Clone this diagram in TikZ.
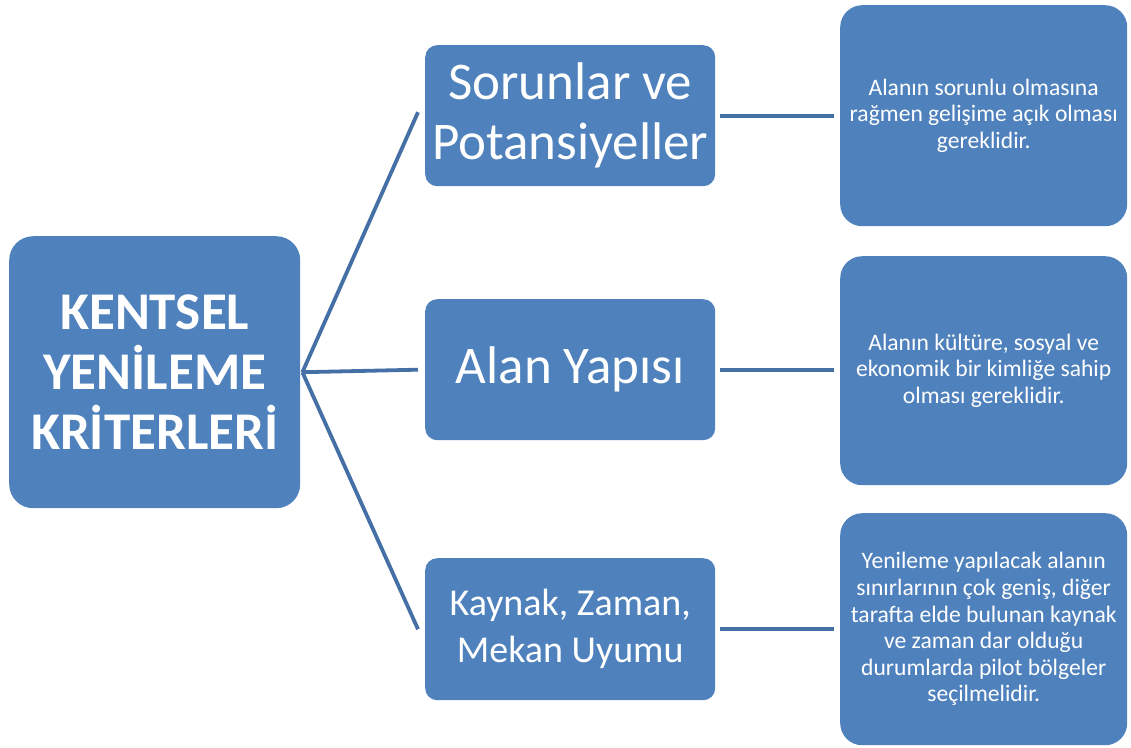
\documentclass[tikz,border=0pt]{standalone}
\usepackage{fontspec}
\setmainfont{Carlito}
\definecolor{boxblue}{HTML}{4F81BD}
\definecolor{lineblue}{HTML}{4470A5}
\begin{document}
\begin{tikzpicture}[x=1pt,y=-1pt,
  box/.style={fill=boxblue, draw=none, anchor=north west, text=white, align=center, inner sep=0pt},
  conn/.style={draw=lineblue, line width=3.8pt}]
\useasboundingbox (0,0) rectangle (1131,747);
% left box
\node[box, rounded corners=24pt, minimum width=291pt, minimum height=272pt,
  font=\fontsize{53}{60}\selectfont\bfseries] (L) at (9,236) {KENTSEL\\YENİLEME\\KRİTERLERİ};
% middle boxes
\node[box, rounded corners=12pt, minimum width=290pt, minimum height=141pt,
  font=\fontsize{53}{60}\selectfont] (M1) at (425,45) {Sorunlar ve\\Potansiyeller};
\node[box, rounded corners=12pt, minimum width=290pt, minimum height=141pt,
  font=\fontsize{53}{60}\selectfont] (M2) at (425,299) {Alan Yapısı};
\node[box, rounded corners=12pt, minimum width=290pt, minimum height=142pt,
  font=\fontsize{38}{47}\selectfont] (M3) at (425,558) {Kaynak, Zaman,\\Mekan Uyumu};
% right boxes
\node[box, rounded corners=22pt, minimum width=287pt, minimum height=221pt,
  font=\fontsize{23.6}{26.6}\selectfont] (R1) at (840,5) {Alanın sorunlu olmasına\\rağmen gelişime açık olması\\gereklidir.};
\node[box, rounded corners=22pt, minimum width=287pt, minimum height=229pt,
  font=\fontsize{23.6}{26.6}\selectfont] (R2) at (840,256) {Alanın kültüre, sosyal ve\\ekonomik bir kimliğe sahip\\olması gereklidir.};
\node[box, rounded corners=22pt, minimum width=287pt, minimum height=232pt,
  font=\fontsize{23.6}{26.6}\selectfont] (R3) at (840,513) {Yenileme yapılacak alanın\\sınırlarının çok geniş, diğer\\tarafta elde bulunan kaynak\\ve zaman dar olduğu\\durumlarda pilot bölgeler\\seçilmelidir.};
% connectors
\coordinate (hub) at ([xshift=2pt]L.east);
\draw[conn] (hub) -- ([xshift=-7pt,yshift=3.5pt]M1.west);
\draw[conn] (hub) -- ([xshift=-7pt]M2.west);
\draw[conn] (hub) -- ([xshift=-7pt]M3.west);
\draw[conn, shorten <=5pt, shorten >=6pt] (M1.east) -- (M1.east -| R1.west);
\draw[conn, shorten <=5pt, shorten >=6pt] (M2.east) -- (M2.east -| R2.west);
\draw[conn, shorten <=5pt, shorten >=6pt] (M3.east) -- (M3.east -| R3.west);
\end{tikzpicture}
\end{document}
